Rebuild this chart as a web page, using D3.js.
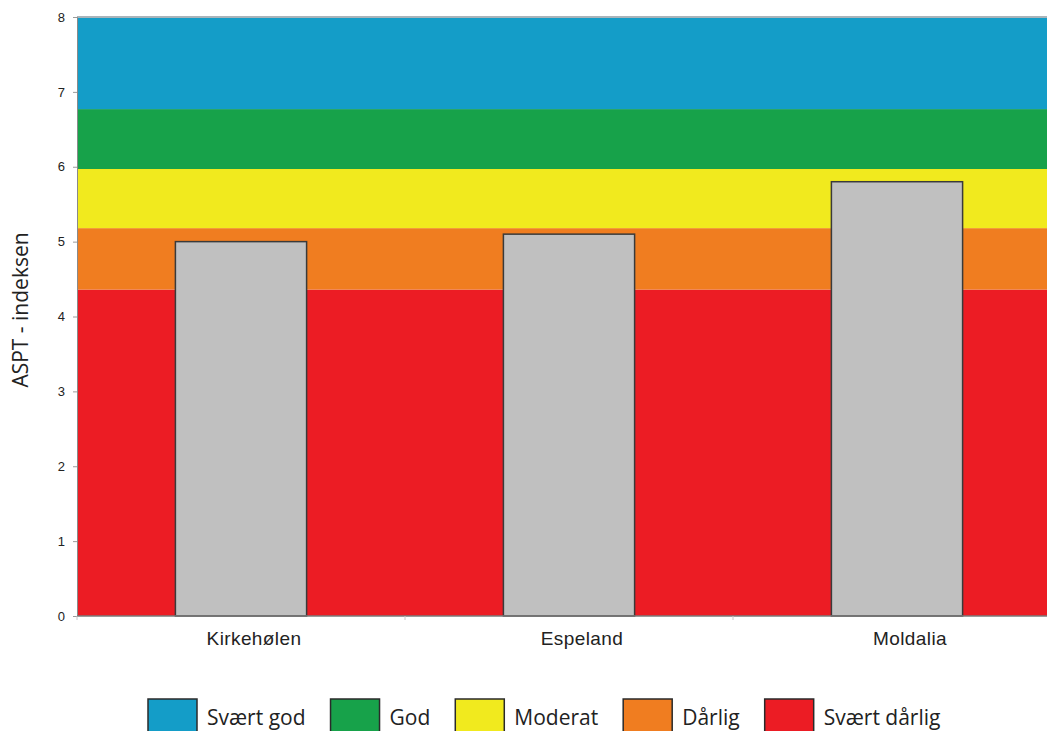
<!DOCTYPE html>
<html>
<head>
<meta charset="utf-8">
<script src="https://cdn.jsdelivr.net/npm/d3@7"></script>
<style>
  body { margin: 0; background: #fff; }
  svg { display: block; }
</style>
</head>
<body>
<div id="chart"></div>
<script>
// ASPT-indeks per stasjon, med tilstandsklasser som bakgrunn

const categories = ["Kirkehølen", "Espeland", "Moldalia"];
const asptValues = [5.0, 5.1, 5.8];

// klassene nedenfra og opp
const classNames = ["Svært dårlig", "Dårlig", "Moderat", "God", "Svært god"];
const classLower = [0, 4.36, 5.18, 5.97, 6.77];
const classUpper = [4.36, 5.18, 5.97, 6.77, 8];
const classColors = ["#ec1c24", "#f07d20", "#f1ea1e", "#17a24a", "#149dc8"];

const yTicks = [0, 1, 2, 3, 4, 5, 6, 7, 8];
const yLabel = "ASPT - indeksen";

let width = 1047, height = 731;
let margin = {top: 17, left: 77};
let innerH = 616 - margin.top;
let innerW = 984;   // plot continues past the right edge of the picture

let svg = d3.select("#chart")
  .append("svg")
  .attr("width", width)
  .attr("height", height);

let g = svg.append("g")
  .attr("transform", "translate(" + margin.left + "," + margin.top + ")");

let y = d3.scaleLinear()
  .domain([0, 8])
  .range([innerH, 0]);

let x = d3.scaleBand()
  .domain(categories)
  .range([0, innerW])
  .paddingInner(0.6)
  .paddingOuter(0.3);

// bakgrunnsbånd
g.selectAll("rect.band")
  .data(classNames)
  .join("rect")
  .attr("class", "band")
  .attr("x", 0)
  .attr("width", innerW)
  .attr("y", (d, i) => y(classUpper[i]))
  .attr("height", (d, i) => y(classLower[i]) - y(classUpper[i]))
  .attr("fill", (d, i) => classColors[i]);

// top frame line
g.append("line")
  .attr("x1", 0).attr("x2", innerW)
  .attr("y1", y(8)).attr("y2", y(8))
  .attr("stroke", "#a9b4ba")
  .attr("stroke-width", 2);

// bars
g.selectAll("rect.bar")
  .data(asptValues)
  .join("rect")
  .attr("class", "bar")
  .attr("x", (d, i) => x(categories[i]))
  .attr("width", x.bandwidth())
  .attr("y", d => y(d))
  .attr("height", d => y(0) - y(d))
  .attr("fill", "#c0c0c0")
  .attr("stroke", "#3a3a3a")
  .attr("stroke-width", 1.5);

// Y axis
let yAxis = g.append("g")
  .call(d3.axisLeft(y).tickValues(yTicks).tickFormat(d3.format("d")).tickSize(4).tickPadding(8));
yAxis.select(".domain").attr("stroke", "#8a8a8a");
yAxis.selectAll(".tick line").attr("stroke", "#9a9a9a");
yAxis.selectAll("text")
  .attr("fill", "#222")
  .style("font-family", "'Liberation Sans', Arial, sans-serif")
  .style("font-size", "13px");

// X axis: ticks between the categories
let step = x.step();
let xAxis = g.append("g")
  .attr("transform", "translate(0," + innerH + ")");
xAxis.append("line")
  .attr("x1", 0).attr("x2", innerW)
  .attr("stroke", "#7a7a7a")
  .attr("stroke-width", 1.5);
xAxis.selectAll("line.sep")
  .data(d3.range(categories.length + 1))
  .join("line")
  .attr("class", "sep")
  .attr("x1", d => d * step).attr("x2", d => d * step)
  .attr("y1", 0).attr("y2", 4)
  .attr("stroke", "#c8c8c8");
xAxis.selectAll("text")
  .data(categories)
  .join("text")
  .attr("x", d => x(d) + x.bandwidth() / 2 + 13)
  .attr("y", 29)
  .attr("text-anchor", "middle")
  .attr("fill", "#222")
  .style("font-family", "'Liberation Sans', Arial, sans-serif")
  .style("font-size", "19px")
  .style("letter-spacing", "0.4px")
  .text(d => d);

// Y title
svg.append("text")
  .attr("transform", "translate(28,310) rotate(-90)")
  .attr("text-anchor", "middle")
  .attr("fill", "#222")
  .style("font-family", "'Open Sans', sans-serif")
  .style("font-size", "21px")
  .text(yLabel);

// legend, from best to worst
let legendOrder = d3.range(classNames.length).reverse();
let legend = svg.append("g").attr("transform", "translate(148,699)");
let lx = 0;
legendOrder.forEach(function (i) {
  let item = legend.append("g").attr("transform", "translate(" + lx + ",0)");
  item.append("rect")
    .attr("width", 49).attr("height", 38)
    .attr("fill", classColors[i])
    .attr("stroke", "#2a2a2a")
    .attr("stroke-width", 1.5);
  let t = item.append("text")
    .attr("x", 59).attr("y", 26)
    .attr("fill", "#222")
    .style("font-family", "'Open Sans', sans-serif")
    .style("font-size", "21px")
    .text(classNames[i]);
  lx += 59 + t.node().getComputedTextLength() + 25;
});
</script>
</body>
</html>
